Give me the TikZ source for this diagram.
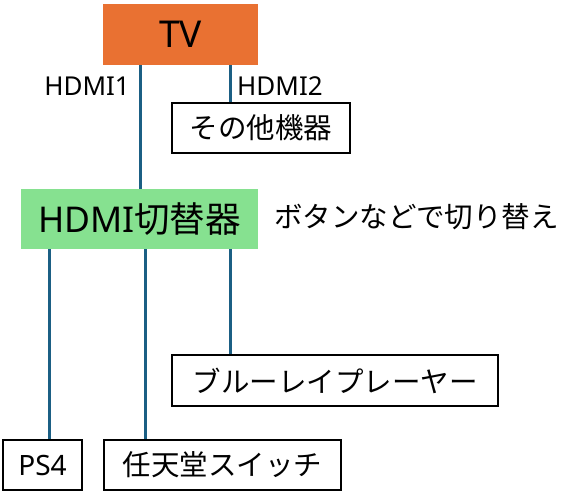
\documentclass[tikz,border=0pt]{standalone}
\usepackage{fontspec}
\setmainfont{Noto Sans CJK JP}
\newfontfamily\latinf{Noto Sans}
\definecolor{tvorange}{HTML}{E97132}
\definecolor{swgreen}{HTML}{86E190}
\definecolor{cable}{HTML}{1B5F84}
\begin{document}
\begin{tikzpicture}[x=1pt,y=-1pt,
  box/.style={draw=black,line width=2pt,fill=white,inner sep=0pt},
  cablestyle/.style={draw=cable,line width=3pt},
  lbl/.style={inner sep=0pt,font=\latinf\fontsize{26}{30}\selectfont},
  jp/.style={font=\fontsize{28.5}{34}\selectfont}]
\useasboundingbox (0,0) rectangle (583,500);
\node[fill=tvorange,inner sep=0pt,minimum width=155pt,minimum height=61pt,font=\latinf\fontsize{37}{42}\selectfont] (tv) at (180.5,34.5) {TV};
\node[box,jp,minimum width=178pt,minimum height=50pt] (other) at (261,128) {その他機器};
\node[fill=swgreen,inner sep=0pt,minimum width=237pt,minimum height=60pt,font=\fontsize{35.5}{40}\selectfont] (sw) at (139.5,219) {{\latinf HDMI}切替器};
\node[jp,anchor=west,inner sep=0pt] (note) at (274,217) {ボタンなどで切り替え};
\node[box,jp,minimum width=326pt,minimum height=51pt] (bd) at (335,380.5) {ブルーレイプレーヤー};
\node[box,minimum width=79pt,minimum height=50pt,font=\latinf\fontsize{28}{32}\selectfont] (ps4) at (42.5,465) {PS4};
\node[box,jp,minimum width=237pt,minimum height=50pt] (ns) at (222.5,465) {任天堂スイッチ};
\coordinate (c1) at (140,0);
\coordinate (c2) at (230,0);
\coordinate (d1) at (49,0);
\coordinate (d2) at (145,0);
\coordinate (d3) at (230,0);
\draw[cablestyle] (tv.south -| c1) -- (sw.north -| c1);
\draw[cablestyle] (tv.south -| c2) -- (other.north -| c2);
\draw[cablestyle] (sw.south -| d1) -- (ps4.north -| d1);
\draw[cablestyle] (sw.south -| d2) -- (ns.north -| d2);
\draw[cablestyle] (sw.south -| d3) -- (bd.north -| d3);
\node[lbl,anchor=east] (h1) at (130,86) {HDMI1};
\node[lbl,anchor=west] (h2) at (237,86) {HDMI2};
\end{tikzpicture}
\end{document}
